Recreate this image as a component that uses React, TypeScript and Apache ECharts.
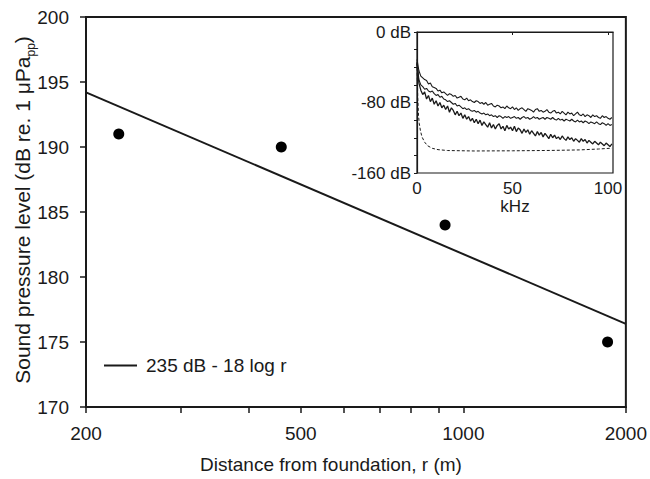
import React, { useEffect, useRef } from "react";
import * as echarts from "echarts";

// Main chart: measured peak-to-peak sound pressure levels vs distance
const distances = [230, 460, 925, 1850];
const levels = [191, 190, 184, 175];
// Fitted line "235 dB - 18 log r" as drawn (end points)
const fitDistances = [200, 2000];
const fitLevels = [194.2, 176.4];
const xTickValues = [200, 300, 400, 500, 600, 700, 800, 900, 1000, 2000];
const xLabelValues = [200, 500, 1000, 2000];
const fitName = "235 dB - 18 log r";

// Inset: spectra (dB) sampled every 1 kHz, starting at 0 kHz
const spectrumStepKHz = 1;
const spectrumTop = [
  -31, -44, -50, -52, -54, -55, -59, -58, -62, -63, -64, -67, -66, -69, -68, -70, -72, -70, -71, -73,
  -72, -75, -74, -73, -76, -77, -75, -78, -77, -79, -80, -78, -79, -81, -80, -82, -80, -83, -82, -81,
  -84, -85, -83, -84, -86, -85, -87, -84, -86, -87, -85, -88, -86, -89, -87, -86, -88, -90, -87, -88,
  -89, -91, -88, -87, -90, -89, -91, -90, -88, -91, -92, -90, -89, -92, -91, -93, -90, -92, -94, -91,
  -93, -92, -95, -93, -91, -94, -95, -93, -96, -94, -95, -97, -94, -96, -95, -97, -98, -95, -97, -96,
  -98, -99, -97,
];
const spectrumMid = [
  -34, -54, -60, -62, -65, -64, -67, -68, -67, -70, -72, -71, -74, -73, -76, -77, -79, -78, -80, -82,
  -81, -84, -83, -85, -87, -86, -88, -87, -89, -90, -89, -91, -90, -92, -93, -92, -94, -93, -95, -94,
  -96, -95, -97, -95, -96, -98, -96, -97, -96, -98, -97, -96, -98, -97, -99, -97, -96, -98, -97, -99,
  -98, -96, -98, -97, -99, -98, -97, -99, -97, -98, -99, -97, -99, -100, -98, -100, -99, -101, -99, -100,
  -101, -99, -101, -102, -100, -102, -101, -103, -101, -102, -104, -102, -103, -104, -102, -104, -105, -103, -104, -106,
  -104, -106, -105,
];
const spectrumLow = [
  -36, -58, -66, -71, -68, -76, -72, -79, -75, -82, -78, -84, -80, -86, -83, -88, -84, -91, -86, -89,
  -94, -90, -95, -92, -98, -94, -99, -96, -101, -98, -103, -99, -104, -100, -106, -102, -105, -108, -103, -109,
  -105, -110, -106, -104, -110, -107, -112, -106, -110, -108, -112, -107, -113, -109, -111, -115, -110, -114, -111, -116,
  -112, -115, -118, -113, -117, -114, -119, -115, -118, -121, -116, -120, -117, -121, -119, -122, -118, -121, -123, -119,
  -122, -120, -124, -121, -123, -125, -121, -124, -122, -126, -123, -125, -127, -124, -126, -128, -125, -127, -129, -126,
  -128, -130, -127,
];
// Inset: background noise (dashed)
const noiseKHz = [0, 0.4, 0.8, 1.2, 1.8, 2.6, 4, 5.5, 8, 11, 16, 30, 50, 70, 85, 95, 102];
const noiseDb = [-35, -75, -95, -104, -112, -119, -125, -129, -132, -133.5, -134.5, -135, -134.8, -134.4, -133.8, -132.8, -131.8];
const insetXTicks = [0, 50, 100];

const FONT = "'Liberation Sans', Arial, Helvetica, sans-serif";
const INK = "#1a1a1a";

export default function App() {
  const ref = useRef<HTMLDivElement>(null);

  useEffect(() => {
    if (!ref.current) return;
    const chart = echarts.init(ref.current, undefined, { renderer: "svg" });
    const lg = (v: number) => Math.log10(v);

    const spectrum = (arr: number[]) => arr.map((v, i) => [i * spectrumStepKHz, v]);

    const option: any = {
      animation: false,
      backgroundColor: "#ffffff",
      textStyle: { fontFamily: FONT, color: INK },
      legend: {
        data: [{ name: fitName, icon: "path://M0,0 L33,0 L33,2 L0,2 Z" }],
        left: 99,
        top: 351,
        itemWidth: 33,
        itemHeight: 2,
        selectedMode: false,
        textStyle: { fontSize: 19, color: INK, fontFamily: FONT, padding: [0, 0, 0, 4] },
      },
      grid: [
        {
          left: 86,
          top: 17,
          width: 541,
          height: 390,
          show: true,
          borderColor: INK,
          borderWidth: 2,
          backgroundColor: "transparent",
        },
        {
          left: 417,
          top: 32,
          width: 196,
          height: 141,
          show: true,
          borderColor: INK,
          borderWidth: 1.2,
          backgroundColor: "#ffffff",
        },
      ],
      xAxis: [
        {
          type: "value",
          gridIndex: 0,
          min: lg(200),
          max: lg(2000),
          axisLine: { show: true, lineStyle: { color: INK, width: 2 } },
          axisTick: {
            show: true,
            length: 6,
            lineStyle: { color: INK, width: 1.5 },
            customValues: xTickValues.map(lg),
          },
          axisLabel: {
            fontSize: 19,
            color: INK,
            fontFamily: FONT,
            margin: 17,
            customValues: xLabelValues.map(lg),
            formatter: (v: number) => String(Math.round(Math.pow(10, v))),
          },
          splitLine: { show: false },
        },
        {
          type: "value",
          gridIndex: 1,
          min: 0,
          max: 102.6,
          name: "kHz",
          nameLocation: "middle",
          nameGap: 24,
          nameTextStyle: { fontSize: 17, color: INK, fontFamily: FONT },
          axisLine: { show: true, lineStyle: { color: INK, width: 1.2 } },
          axisTick: { show: true, length: 3, lineStyle: { color: INK }, customValues: insetXTicks },
          axisLabel: { fontSize: 17, color: INK, fontFamily: FONT, margin: 7, customValues: insetXTicks },
          splitLine: { show: false },
        },
      ],
      yAxis: [
        {
          type: "value",
          gridIndex: 0,
          min: 170,
          max: 200,
          interval: 5,
          axisLine: { show: true, lineStyle: { color: INK, width: 2 } },
          axisTick: { show: true, length: 6, lineStyle: { color: INK, width: 1.5 } },
          axisLabel: { fontSize: 19, color: INK, fontFamily: FONT, margin: 17 },
          splitLine: { show: false },
        },
        {
          type: "value",
          gridIndex: 1,
          min: -160,
          max: 0,
          interval: 80,
          axisLine: { show: true, lineStyle: { color: INK, width: 1.2 } },
          axisTick: { show: true, length: 3, lineStyle: { color: INK } },
          minorTick: { show: true, splitNumber: 4, length: 3, lineStyle: { color: INK } },
          axisLabel: {
            fontSize: 17,
            color: INK,
            fontFamily: FONT,
            margin: 6,
            formatter: (v: number) => `${v} dB`,
          },
          splitLine: { show: false },
        },
      ],
      graphic: [
        {
          type: "text",
          x: 331,
          y: 464,
          style: {
            text: "Distance from foundation, r (m)",
            fontSize: 19,
            fontFamily: FONT,
            fill: INK,
            align: "center",
            verticalAlign: "middle",
          },
        },
        {
          type: "text",
          x: 22,
          y: 210,
          rotation: Math.PI / 2,
          style: {
            text: "{a|Sound pressure level (dB re. 1 μPa}{s|pp}{a|)}",
            fontSize: 21,
            fontFamily: FONT,
            fill: INK,
            align: "center",
            verticalAlign: "middle",
            rich: {
              a: { fontSize: 21, fontFamily: FONT, fill: INK, lineHeight: 30 },
              s: { fontSize: 12, fontFamily: FONT, fill: INK, lineHeight: 10, verticalAlign: "bottom" },
            },
          },
        },
      ],
      series: [
        {
          name: fitName,
          type: "line",
          xAxisIndex: 0,
          yAxisIndex: 0,
          symbol: "none",
          data: fitDistances.map((d, i) => [lg(d), fitLevels[i]]),
          lineStyle: { color: INK, width: 2 },
          itemStyle: { color: INK },
        },
        {
          name: "measured",
          type: "scatter",
          xAxisIndex: 0,
          yAxisIndex: 0,
          symbol: "circle",
          symbolSize: 11,
          data: distances.map((d, i) => [lg(d), levels[i]]),
          itemStyle: { color: "#000000", opacity: 1 },
        },
        {
          name: "spectrum 1",
          type: "line",
          xAxisIndex: 1,
          yAxisIndex: 1,
          symbol: "none",
          data: spectrum(spectrumTop),
          lineStyle: { color: INK, width: 1.1 },
        },
        {
          name: "spectrum 2",
          type: "line",
          xAxisIndex: 1,
          yAxisIndex: 1,
          symbol: "none",
          data: spectrum(spectrumMid),
          lineStyle: { color: INK, width: 1.1 },
        },
        {
          name: "spectrum 3",
          type: "line",
          xAxisIndex: 1,
          yAxisIndex: 1,
          symbol: "none",
          data: spectrum(spectrumLow),
          lineStyle: { color: INK, width: 1.3 },
        },
        {
          name: "noise",
          type: "line",
          xAxisIndex: 1,
          yAxisIndex: 1,
          symbol: "none",
          smooth: false,
          data: noiseKHz.map((k, i) => [k, noiseDb[i]]),
          lineStyle: { color: INK, width: 1, type: [3, 2] },
        },
      ],
    };

    chart.setOption(option);
    return () => chart.dispose();
  }, []);

  return (
    <div
      ref={ref}
      style={{ position: "fixed", left: 0, top: 0, width: 650, height: 479, background: "#fff" }}
    />
  );
}
